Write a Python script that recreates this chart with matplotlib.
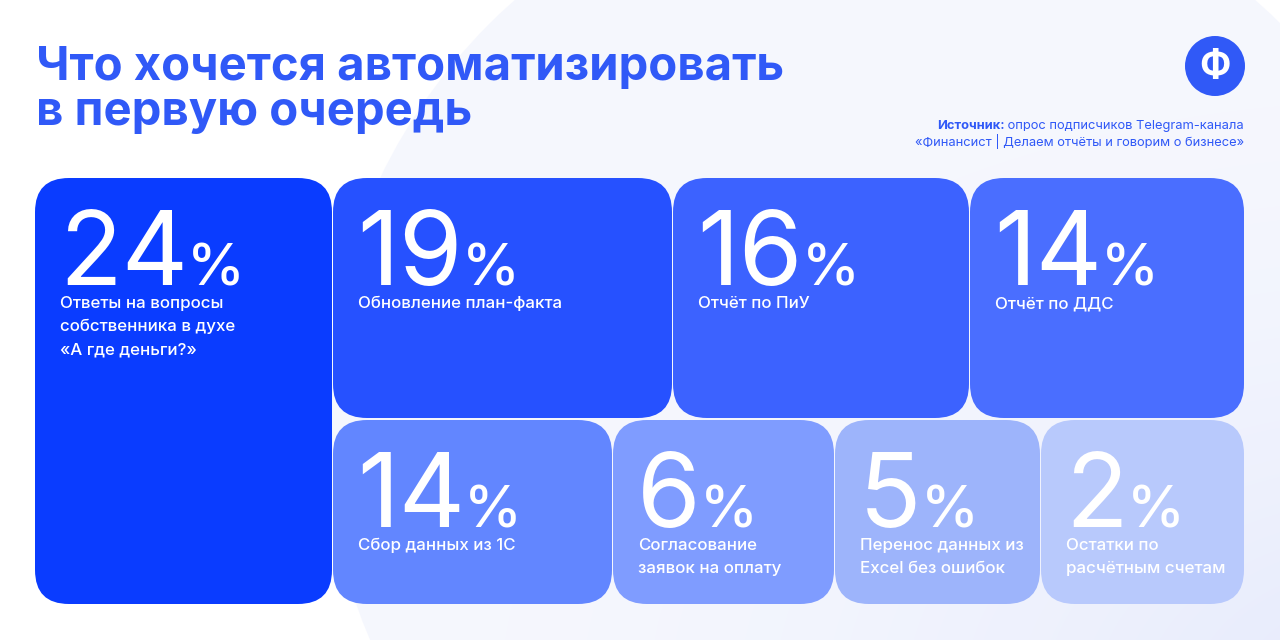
import numpy as np
import matplotlib.pyplot as plt
from matplotlib.patches import FancyBboxPatch, Circle

plt.rcParams['font.family'] = ['Inter', 'DejaVu Sans']

# data
values = [24, 19, 16, 14, 14, 6, 5, 2]
labels = [
    ["Ответы на вопросы", "собственника в духе", "«А где деньги?»"],
    ["Обновление план-факта"],
    ["Отчёт по ПиУ"],
    ["Отчёт по ДДС"],
    ["Сбор данных из 1С"],
    ["Согласование", "заявок на оплату"],
    ["Перенос данных из", "Excel без ошибок"],
    ["Остатки по", "расчётным счетам"],
]
colors = ["#0a3cff", "#2651ff", "#3c62ff", "#4a6eff",
          "#6286ff", "#7f9cff", "#9db4fb", "#b8c9fc"]

title_lines = ["Что хочется автоматизировать", "в первую очередь"]
source_bold = "Источник:"
source_rest = " опрос подписчиков Telegram-канала"
source_line2 = "«Финансист | Делаем отчёты и говорим о бизнесе»"

# layout of tiles in pixels: left, top, right, bottom
tiles = [
    (35, 178, 332, 604),
    (333, 178, 672, 418),
    (673, 178, 969, 418),
    (970, 178, 1244, 418),
    (333, 420, 612, 604),
    (613, 420, 834, 604),
    (835, 420, 1040, 604),
    (1041, 420, 1244, 604),
]

blue = "#3059f7"

fig = plt.figure(figsize=(12.8, 6.4), dpi=100)
ax = fig.add_axes([0, 0, 1, 1])
ax.set_xlim(0, 1280)
ax.set_ylim(640, 0)
ax.axis('off')

# soft background
yy, xx = np.mgrid[0:640, 0:1280]
d = np.sqrt(((xx - 1400) / 900.0) ** 2 + ((yy - 700) / 600.0) ** 2)
t = np.clip(1 - d, 0, 1) ** 1.5
bg = np.ones((640, 1280, 3))
tint = np.array([0.84, 0.87, 0.98])
bg = bg * (1 - t[..., None] * 0.9) + tint * (t[..., None] * 0.9)
ax.imshow(bg, extent=(0, 1280, 640, 0), zorder=0)
ax.add_patch(Circle((885, 420), 560, color="#eef1fd", alpha=0.55, lw=0, zorder=0.5))

# title
for i, line in enumerate(title_lines):
    ax.text(36, 80 + 45 * i, line, fontsize=34, fontweight='bold', color=blue,
            ha='left', va='baseline')

# logo
ax.add_patch(Circle((1215, 66), 30, color=blue, lw=0, zorder=3))
ax.text(1215, 67, "Ф", fontsize=27, fontweight='bold', color='white',
        ha='center', va='center', zorder=4)

# source
fig.canvas.draw()
r = fig.canvas.get_renderer()
inv = ax.transData.inverted()
t1 = ax.text(1244, 129, source_rest, fontsize=9.3, color=blue, ha='right', va='baseline')
bb = t1.get_window_extent(r)
x0 = inv.transform((bb.x0, bb.y0))[0]
ax.text(x0, 129, source_bold, fontsize=9.3, color=blue, fontweight='bold',
        ha='right', va='baseline')
ax.text(1244, 146, source_line2, fontsize=9.3, color=blue, ha='right', va='baseline')

# tiles
for v, lab, c, (l, tp, rt, bt) in zip(values, labels, colors, tiles):
    ax.add_patch(FancyBboxPatch((l, tp), rt - l, bt - tp,
                                boxstyle="round,pad=0,rounding_size=34",
                                fc=c, ec='none', zorder=2))
    num = ax.text(l + 24, tp + 107, str(v), fontsize=74, fontweight='normal',
                  color='white', ha='left', va='baseline', zorder=3)
    nb = num.get_window_extent(r)
    xr = inv.transform((nb.x1, nb.y0))[0]
    ax.text(xr - 1, tp + 107, "%", fontsize=42, fontweight='medium',
            color='white', ha='left', va='baseline', zorder=3)
    for j, line in enumerate(lab):
        ax.text(l + 25, tp + 130 + 23 * j, line, fontsize=12.2, fontweight='medium',
                color='white', ha='left', va='baseline', zorder=3)

fig.savefig("out.png", dpi=100)
